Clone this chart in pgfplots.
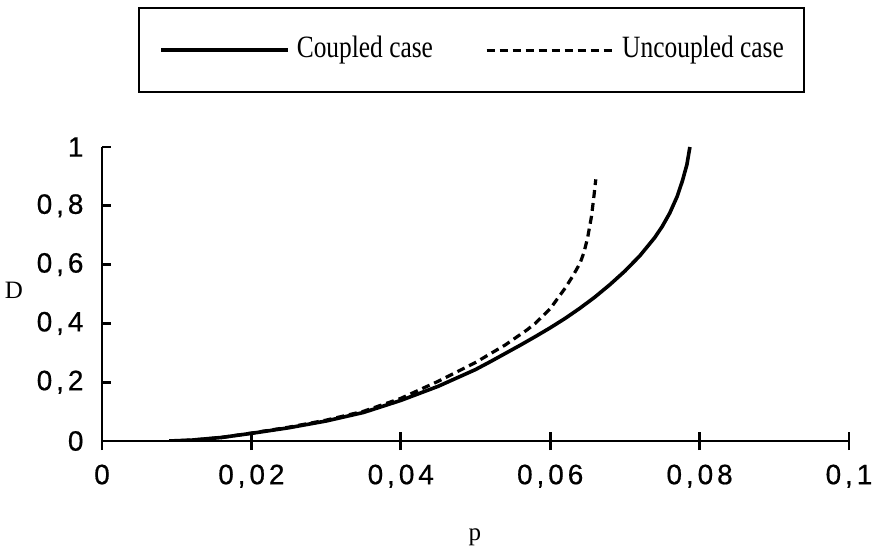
\documentclass[border=0pt]{standalone}
\usepackage{fontspec}
\setmainfont{Liberation Serif}
\newfontfamily\tickfont{Liberation Sans}[LetterSpace=14, FakeBold=0.6]
\newfontfamily\legfont{Liberation Serif}[FakeStretch=0.82]
\usepackage{pgfplots}
\pgfplotsset{compat=1.18}
\begin{document}
\begin{tikzpicture}
\begin{axis}[
  scale only axis,
  width=747bp, height=294bp,
  xmin=0, xmax=0.1, ymin=0, ymax=1,
  axis lines*=left,
  axis line style={line width=2.8bp},
  xtick={0,0.02,0.04,0.06,0.08,0.1},
  xticklabels={{0},{0,02},{0,04},{0,06},{0,08},{0,1}},
  ytick={0,0.2,0.4,0.6,0.8,1},
  yticklabels={{0},{0,2},{0,4},{0,6},{0,8},{1}},
  xtick align=center, ytick align=inside,
  tick style={black, line width=2.8bp},
  xtick style={black, line width=2.8bp,/pgfplots/major tick length=18bp},
  ytick style={black, line width=2.8bp,/pgfplots/major tick length=9bp},
  ticklabel style={font=\tickfont\fontsize{28bp}{32bp}\selectfont},
  xticklabel style={yshift=-18bp},
  yticklabel style={xshift=-15bp},
  xlabel={p}, ylabel={D},
  label style={font=\fontsize{25bp}{28bp}\selectfont},
  ylabel style={rotate=-90, at={(axis description cs:-0.118,0.514)}, anchor=center},
  xlabel style={at={(axis description cs:0.499,-0.340)}, anchor=base},
  legend columns=2,
  legend style={at={(axis description cs:0.0482,1.476)}, anchor=north west,
    draw=black, line width=2.4bp, inner xsep=20bp, inner ysep=28bp,
    font=\legfont\fontsize{31bp}{34bp}\selectfont,
    nodes={inner sep=0pt, text height=21bp, text depth=7bp},
    /tikz/every odd column/.append style={column sep=7bp},
    /tikz/every even column/.append style={column sep=52bp}},
  legend image code/.code={\draw[#1] (0bp,0bp) -- (127bp,0bp);},
]
\addplot[black, line width=3.6bp, line join=round] coordinates {
(0.009,0) (0.012,0.003) (0.016,0.012) (0.020,0.026) (0.025,0.045)
(0.030,0.068) (0.035,0.097) (0.040,0.138) (0.045,0.186) (0.050,0.243)
(0.052,0.270) (0.054,0.298) (0.056,0.326) (0.058,0.355) (0.060,0.385)
(0.062,0.417) (0.064,0.452) (0.066,0.490) (0.068,0.532) (0.070,0.578)
(0.072,0.630) (0.074,0.692) (0.075,0.730) (0.076,0.775) (0.077,0.832)
(0.0777,0.885) (0.0783,0.940) (0.0787,1.0)};
\addlegendentry{Coupled case}
\addplot[black, line width=3.2bp, dash pattern=on 8bp off 5bp] coordinates {
(0.009,0) (0.012,0.003) (0.016,0.012) (0.020,0.027) (0.025,0.047)
(0.030,0.071) (0.035,0.101) (0.040,0.145) (0.045,0.203) (0.050,0.267)
(0.054,0.327) (0.0569,0.378) (0.058,0.400) (0.060,0.450) (0.062,0.520)
(0.063,0.560) (0.064,0.605) (0.0645,0.640) (0.065,0.690) (0.0655,0.760)
(0.0658,0.820) (0.0661,0.890)};
\addlegendentry{Uncoupled case}
\end{axis}
\path[use as bounding box] (-102bp,-112bp) rectangle (776bp,441bp);
\end{tikzpicture}
\end{document}
